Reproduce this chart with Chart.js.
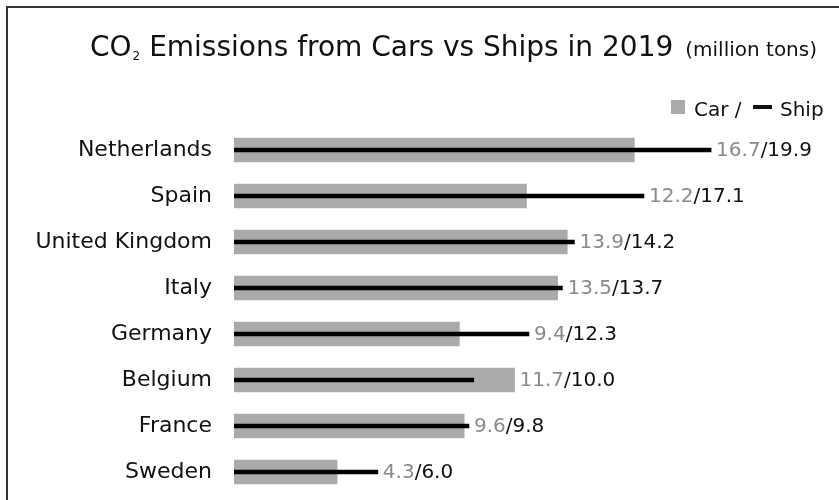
<!DOCTYPE html>
<html>
<head>
<meta charset="utf-8">
<script src="https://cdn.jsdelivr.net/npm/chart.js@4"></script>
<style>
  body { margin: 0; background: #fff; overflow: hidden; }
  #wrap { width: 839px; height: 500px; position: relative; }
</style>
</head>
<body>
<div id="wrap"><canvas id="myCanvas"></canvas></div>
<script>
const countries = ["Netherlands", "Spain", "United Kingdom", "Italy", "Germany", "Belgium", "France", "Sweden"];
const carValues = [16.7, 12.2, 13.9, 13.5, 9.4, 11.7, 9.6, 4.3];
const shipValues = [19.9, 17.1, 14.2, 13.7, 12.3, 10.0, 9.8, 6.0];

const FONT = "'DejaVu Sans', sans-serif";
const CAR_COLOR = "#aaaaaa";
const LABEL_GRAY = "#8a8a8a";

// frame, title, legend and the "car/ship" value labels
const decorations = {
  id: "decorations",
  afterDraw(chart) {
    const ctx = chart.ctx;
    const x = chart.scales.x;
    const y = chart.scales.y;
    ctx.save();

    // frame (top + left)
    ctx.strokeStyle = "#333";
    ctx.lineWidth = 2;
    ctx.beginPath();
    ctx.moveTo(7, 500);
    ctx.lineTo(7, 7);
    ctx.lineTo(839, 7);
    ctx.stroke();

    // title
    ctx.fillStyle = "#111";
    ctx.textBaseline = "alphabetic";
    ctx.textAlign = "left";
    let tx = 90;
    ctx.font = "28px " + FONT;
    ctx.fillText("CO", tx, 56);
    tx += ctx.measureText("CO").width + 1;
    ctx.font = "12px " + FONT;
    ctx.fillText("2", tx, 60);
    tx += ctx.measureText("2").width;
    ctx.font = "28px " + FONT;
    const rest = " Emissions from Cars vs Ships in 2019";
    ctx.fillText(rest, tx, 56);
    tx += ctx.measureText(rest).width + 12;
    ctx.font = "20px " + FONT;
    ctx.fillText("(million tons)", tx, 56);

    // legend
    ctx.fillStyle = CAR_COLOR;
    ctx.fillRect(671, 100, 14, 14);
    ctx.fillStyle = "#111";
    ctx.font = "20px " + FONT;
    ctx.fillText("Car /", 694, 116);
    ctx.fillRect(753, 105, 19, 4);
    ctx.fillText("Ship", 780, 116);

    // value labels
    ctx.textBaseline = "middle";
    ctx.font = "20px " + FONT;
    countries.forEach((c, i) => {
      const end = Math.max(carValues[i], shipValues[i]);
      let lx = x.getPixelForValue(end) + 5;
      const ly = y.getPixelForValue(i) + 1;
      const a = carValues[i].toFixed(1);
      const b = "/" + shipValues[i].toFixed(1);
      ctx.fillStyle = LABEL_GRAY;
      ctx.fillText(a, lx, ly);
      lx += ctx.measureText(a).width;
      ctx.fillStyle = "#111";
      ctx.fillText(b, lx, ly);
    });

    ctx.restore();
  }
};

const ctx = document.getElementById("myCanvas").getContext("2d");

new Chart(ctx, {
  type: "bar",
  data: {
    labels: countries,
    datasets: [
      {
        label: "Ship",
        data: shipValues,
        backgroundColor: "#000",
        barThickness: 4,
        grouped: false,
        order: 0,
      },
      {
        label: "Car",
        data: carValues,
        backgroundColor: CAR_COLOR,
        barThickness: 24,
        grouped: false,
        order: 1,
      },
    ],
  },
  options: {
    indexAxis: "y",
    responsive: true,
    maintainAspectRatio: false,
    animation: false,
    layout: { padding: { top: 127, bottom: 5, left: 0, right: 32 } },
    plugins: {
      legend: { display: false },
      title: { display: false },
      tooltip: { enabled: false },
    },
    scales: {
      x: { display: false, min: 0, max: 23.9 },
      y: {
        grid: { display: false, drawTicks: false },
        border: { display: false },
        ticks: {
          color: "#111",
          padding: 22,
          font: { family: FONT, size: 22 },
        },
        afterFit(scale) {
          scale.width = 234;
          scale.paddingTop = 0;
          scale.paddingBottom = 0;
        },
      },
    },
  },
  plugins: [decorations],
});
</script>
</body>
</html>
